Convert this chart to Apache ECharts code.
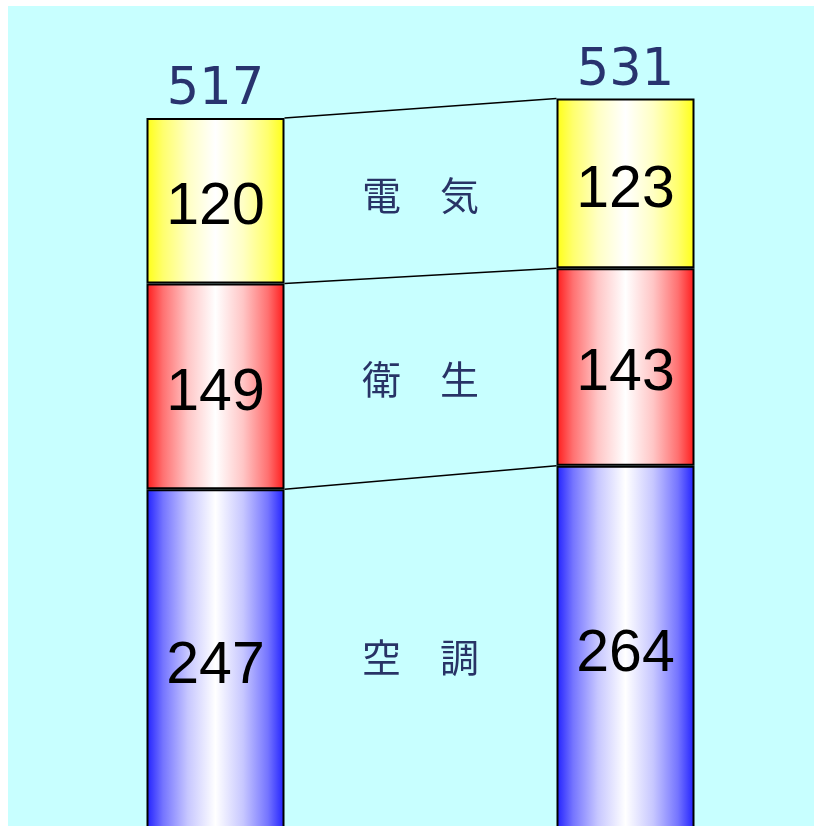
<!DOCTYPE html>
<html>
<head>
<meta charset="utf-8">
<script src="https://cdn.jsdelivr.net/npm/echarts@6/dist/echarts.min.js"></script>
<style>
html,body{margin:0;padding:0;background:#fff;overflow:hidden;width:814px;height:826px;}
#c{width:814px;height:840px;}
</style>
</head>
<body>
<div id="c"></div>
<script>
// ---- data ----
const categories = ['before', 'labels', 'after'];
const segmentNames = ['空調', '衛生', '電気'];          // bottom -> top
const middleLabels = ['空　調', '衛　生', '電　気'];
const beforeValues = [247, 149, 120];
const afterValues = [264, 143, 123];
const totals = [517, 531];
const edgeColors = [[32, 32, 255], [255, 26, 26], [255, 255, 20]];

// ---- build ----
function mix(c, t) { // t = share of colour, rest white
  const r = c.map(v => Math.round(v * t + 255 * (1 - t)));
  return 'rgb(' + r.join(',') + ')';
}
function grad(c) {
  return new echarts.graphic.LinearGradient(0, 0, 1, 0, [
    {offset: 0, color: mix(c, 1)}, {offset: 0.12, color: mix(c, 0.62)},
    {offset: 0.3, color: mix(c, 0.25)}, {offset: 0.5, color: mix(c, 0)},
    {offset: 0.7, color: mix(c, 0.25)}, {offset: 0.88, color: mix(c, 0.62)},
    {offset: 1, color: mix(c, 1)}
  ]);
}
const BW = 138;
const series = [];
segmentNames.forEach((name, i) => {
  series.push({
    name: name, type: 'bar', stack: 'total', barWidth: BW,
    data: [beforeValues[i], null, afterValues[i]],
    itemStyle: {color: grad(edgeColors[i]), borderColor: '#000', borderWidth: 2},
    label: {show: true, position: 'inside', offset: [0, 7], color: '#000',
      fontFamily: 'Liberation Sans', fontSize: 59},
    z: 3
  });
});
// cumulative boundaries
const cumB = [], cumA = [];
let sb = 0, sa = 0;
for (let i = 0; i < beforeValues.length; i++) {
  sb += beforeValues[i]; sa += afterValues[i];
  cumB.push(sb); cumA.push(sa);
}
series.push({
  type: 'custom', z: 4,
  data: cumB.map((v, i) => [0, v, cumA[i]]),
  encode: {x: 0, y: [1, 2]},
  renderItem: function (params, api) {
    const p1 = api.coord([0, api.value(1)]);
    const p2 = api.coord([2, api.value(2)]);
    return {type: 'line', shape: {x1: p1[0] + BW / 2, y1: p1[1], x2: p2[0] - BW / 2, y2: p2[1]},
      style: {stroke: '#000', lineWidth: 1.5}};
  }
});
// middle labels
const mids = beforeValues.map((v, i) => {
  const mb = cumB[i] - v / 2, ma = cumA[i] - afterValues[i] / 2;
  return [1, (mb + ma) / 2];
});
series.push({
  type: 'scatter', symbolSize: 0, z: 5,
  data: mids.map((d, i) => ({value: d, label: {formatter: middleLabels[i]}})),
  label: {show: true, position: 'inside', offset: [0, 3], color: '#000040',
    fontFamily: 'Noto Sans CJK JP', fontSize: 39}
});
// totals
series.push({
  type: 'scatter', symbolSize: 0, z: 5,
  data: [[0, totals[0]], [2, totals[1]]],
  label: {show: true, position: 'top', distance: 0, color: '#00004a',
    fontFamily: 'DejaVu Sans', fontSize: 51,
    formatter: p => String(p.value[1])}
});

const chart = echarts.init(document.getElementById('c'));
chart.setOption({
  animation: false,
  backgroundColor: '#ffffff',
  graphic: [{type: 'rect', z: -10, shape: {x: 8, y: 6, width: 806, height: 834}, style: {fill: '#c8ffff'}}],
  grid: {left: 113, width: 615, top: 2, height: 828},
  xAxis: {type: 'category', data: categories, show: false},
  yAxis: {type: 'value', min: 0, max: 600, show: false},
  series: series
});
</script>
</body>
</html>
